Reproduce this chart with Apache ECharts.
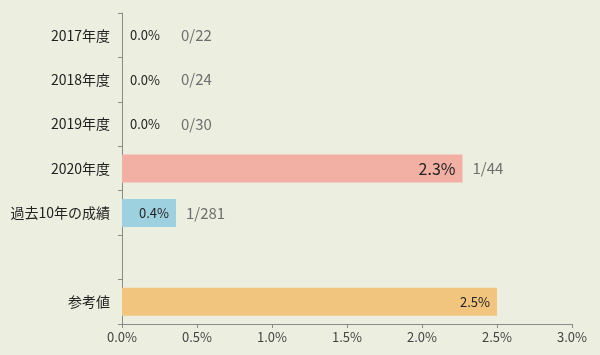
<!DOCTYPE html>
<html>
<head>
<meta charset="utf-8">
<script src="https://cdn.jsdelivr.net/npm/echarts@6/dist/echarts.min.js"></script>
<style>
  html, body { margin: 0; padding: 0; background: #ECEEE0; }
  #chart { width: 600px; height: 355px; }
</style>
</head>
<body>
<div id="chart"></div>
<script>
// categories top to bottom (blank row separates the reference bar)
const categories = ['2017年度', '2018年度', '2019年度', '2020年度', '過去10年の成績', '', '参考値']
// rates in percent
const rates = [0, 0, 0, 2.27, 0.36, null, 2.5]
const fractions = ['0/22', '0/24', '0/30', '1/44', '1/281', '', '']
const barColors = ['#F2B0A5', '#F2B0A5', '#F2B0A5', '#F2B0A5', '#9ED1E0', '#ECEEE0', '#F1C57E']
const xTicks = { min: 0, max: 3, step: 0.5 }

const font = '"Noto Sans CJK JP", "Noto Sans", sans-serif'

const mainData = rates.map(function (v, i) {
  const item = { value: v, itemStyle: { color: barColors[i] } }
  if (v === 0) {
    item.label = { position: 'right', distance: 8, fontSize: 13 }
  } else if (i === 3) {
    item.label = { position: 'insideRight', distance: 7, fontSize: 16 }
  }
  return item
})

const fracData = rates.map(function (v, i) {
  return {
    value: v,
    label: { distance: v === 0 ? 59 : 10 }
  }
})

const myChart = echarts.init(document.getElementById('chart'))
myChart.setOption({
  backgroundColor: '#ECEEE0',
  animation: false,
  grid: { left: 122, right: 28, top: 13, bottom: 31 },
  xAxis: {
    type: 'value',
    min: xTicks.min,
    max: xTicks.max,
    interval: xTicks.step,
    splitLine: { show: false },
    axisLine: { show: true, lineStyle: { color: '#8A8A8A' } },
    axisTick: { show: true, length: 4, lineStyle: { color: '#8A8A8A' } },
    axisLabel: {
      color: '#444444',
      fontSize: 13,
      fontFamily: font,
      margin: 7,
      formatter: function (v) { return v.toFixed(1) + '%' }
    }
  },
  yAxis: {
    type: 'category',
    inverse: true,
    data: categories,
    axisLine: { show: true, lineStyle: { color: '#8A8A8A' } },
    axisTick: { show: true, length: 4, lineStyle: { color: '#8A8A8A' } },
    axisLabel: { color: '#222222', fontSize: 14, fontFamily: font, margin: 12 }
  },
  series: [
    {
      type: 'bar',
      barWidth: 28,
      data: mainData,
      label: {
        show: true,
        position: 'insideRight',
        distance: 7,
        color: '#222222',
        fontSize: 13,
        fontFamily: font,
        formatter: function (p) {
          return p.value == null ? '' : p.value.toFixed(1) + '%'
        }
      },
      z: 2
    },
    {
      type: 'bar',
      barWidth: 28,
      barGap: '-100%',
      data: fracData,
      itemStyle: { color: 'rgba(0,0,0,0)' },
      label: {
        show: true,
        position: 'right',
        color: '#6E6E6E',
        fontSize: 15,
        fontFamily: font,
        formatter: function (p) { return fractions[p.dataIndex] }
      },
      z: 3
    }
  ]
})
</script>
</body>
</html>
